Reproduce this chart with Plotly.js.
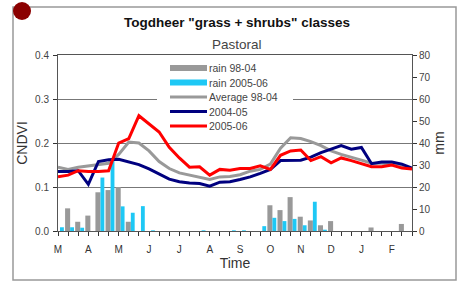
<!DOCTYPE html>
<html><head><meta charset="utf-8">
<script src="https://cdn.plot.ly/plotly-3.0.1.min.js"></script>
<style>html,body{margin:0;padding:0;background:#fff}#c{width:465px;height:282px}</style>
</head><body><div id="c"></div>
<script>
// dekads, March to February (36 dekads, 3 per month)
const dekads = Array.from({length: 36}, (_, i) => i);
const monthLabels = ['M','A','M','J','J','A','S','O','N','D','J','F'];
const rainAvg = [0,10.3,4.2,7,17.6,18.6,20,4.2,0,0,0,0,0,0,0,0,0,0,0,0,0,11.7,9.5,15.4,6.5,4.8,2.6,4.5,0,0,0,1.6,0,0,3.2,0];
const rain0506 = [1.7,1.7,1.5,0,24.3,33,11.2,8.3,11.3,0.3,0,0,0,0,0.3,0,0,0.3,0.3,0,2.2,6,4.5,5.5,2.6,13.3,0.6,0,0,0,0,0,0,0,0,0];
const ndviAvg = [0.145,0.140,0.145,0.148,0.150,0.154,0.174,0.202,0.200,0.182,0.158,0.142,0.132,0.127,0.122,0.117,0.123,0.124,0.128,0.136,0.140,0.152,0.188,0.212,0.210,0.203,0.194,0.182,0.174,0.168,0.161,0.154,0.154,0.152,0.146,0.142];
const ndvi0405 = [0.135,0.135,0.137,0.106,0.158,0.162,0.163,0.157,0.151,0.141,0.130,0.118,0.112,0.109,0.108,0.102,0.111,0.112,0.117,0.123,0.131,0.140,0.160,0.160,0.161,0.168,0.178,0.186,0.194,0.186,0.190,0.153,0.157,0.157,0.152,0.143];
const ndvi0506 = [0.123,0.127,0.137,0.135,0.135,0.137,0.200,0.210,0.262,0.243,0.225,0.190,0.166,0.145,0.146,0.127,0.140,0.138,0.142,0.142,0.148,0.140,0.172,0.182,0.184,0.160,0.169,0.155,0.166,0.160,0.153,0.146,0.146,0.150,0.143,0.141];
const seriesNames = ['rain 98-04','rain 2005-06','Average 98-04','2004-05','2005-06'];
const seriesColors = ['#999999','#1ec8f5','#999999','#00007f','#ff0000'];

const tickText = dekads.map(i => i % 3 === 0 ? monthLabels[i / 3] : '');
const F = 'Liberation Sans, Arial, sans-serif';
// plot area in pixels: l=58, r=412, t=55, b=231
const px = v => (v - 58) / 354;
const py = v => (231 - v) / 176;
const pxX = v => (v - 58) / 354 * 35;   // pixel -> x data (dekad)
const pyMM = v => (231 - v) / 2.2;      // pixel -> mm on main axis

const traces = [
  {type:'bar', name:seriesNames[0], x:dekads, y:rainAvg, yaxis:'y', marker:{color:seriesColors[0]}, offset:-0.3, width:0.5},
  {type:'bar', name:seriesNames[1], x:dekads, y:rain0506, yaxis:'y', marker:{color:seriesColors[1]}, offset:0.2, width:0.38},
  {type:'scatter', mode:'lines', name:seriesNames[2], x:dekads, y:ndviAvg, yaxis:'y2', line:{color:seriesColors[2], width:3}},
  {type:'scatter', mode:'lines', name:seriesNames[3], x:dekads, y:ndvi0405, yaxis:'y2', line:{color:seriesColors[3], width:3}},
  {type:'scatter', mode:'lines', name:seriesNames[4], x:dekads, y:ndvi0506, yaxis:'y2', line:{color:seriesColors[4], width:3}}
];

// hand-drawn legend (long swatches, tight spacing like the original)
const legShapes = [{type:'rect', xref:'x', yref:'y', x0:pxX(157), x1:pxX(293), y0:pyMM(112), y1:pyMM(58),
                    line:{width:0}, fillcolor:'#fff', layer:'between'}];
const legAnn = [];
seriesNames.forEach((n, k) => {
  const yy = 68 + k * 14.5;
  const thick = k < 2 ? 6 : 3;
  legShapes.push({type:'rect', xref:'paper', yref:'paper', x0:px(170), x1:px(207),
    y0:py(yy + thick / 2), y1:py(yy - thick / 2), line:{width:0}, fillcolor:seriesColors[k], layer:'above'});
  legAnn.push({text:n, xref:'paper', yref:'paper', x:px(207), y:py(yy), xanchor:'left', yanchor:'middle',
    showarrow:false, font:{family:F, size:10.5, color:'#444'}});
});

const layout = {
  width:465, height:282,
  margin:{l:58, r:53, t:55, b:51},
  paper_bgcolor:'#fff', plot_bgcolor:'#fff',
  font:{family:F, size:10, color:'#333'},
  barmode:'overlay',
  showlegend:false,
  title:{text:'<b>Togdheer "grass + shrubs" classes</b>', x:px(237), xanchor:'center', xref:'paper',
         y:1-22/282, yref:'container', yanchor:'middle', font:{family:F, size:13.5, color:'#111'}},
  annotations:[
    {text:'Pastoral', xref:'paper', yref:'paper', x:px(237), y:py(44), xanchor:'center', yanchor:'middle',
     showarrow:false, font:{family:F, size:13.5, color:'#444'}}
  ].concat(legAnn),
  xaxis:{range:[0,35], tickvals:dekads, ticktext:tickText, ticks:'outside', ticklen:4, tickcolor:'#333',
         ticklabelstandoff:5,
         showline:true, linecolor:'#555', linewidth:1, mirror:true, showgrid:false, zeroline:false,
         tickfont:{family:F, size:10, color:'#333'},
         title:{text:'Time', font:{family:F, size:14, color:'#333'}, standoff:4}},
  yaxis:{side:'right', range:[0,80], tickvals:[0,10,20,30,40,50,60,70,80], ticks:'outside', ticklen:4,
         tickcolor:'#333', showline:true, linecolor:'#555', showgrid:false, zeroline:false,
         tickfont:{family:F, size:10, color:'#444'},
         title:{text:'mm', font:{family:F, size:14, color:'#333'}, standoff:4}},
  yaxis2:{overlaying:'y', side:'left', range:[0,0.4], tickvals:[0,0.1,0.2,0.3,0.4], ticktext:['0.0','0.1','0.2','0.3','0.4'],
          ticks:'outside', ticklen:4, tickcolor:'#333', showline:true, linecolor:'#555', ticklabelstandoff:2,
          showgrid:true, gridcolor:'#777', gridwidth:1, zeroline:false,
          tickfont:{family:F, size:10, color:'#444'},
          title:{text:'CNDVI', font:{family:F, size:14, color:'#333'}, standoff:4}},
  shapes:[
    {type:'rect', xref:'paper', yref:'paper', x0:px(13), x1:px(456), y0:py(280), y1:py(7),
     line:{color:'#999', width:1.5}, fillcolor:'rgba(0,0,0,0)', layer:'below'},
    {type:'circle', xref:'paper', yref:'paper', x0:px(13), x1:px(31), y0:py(20), y1:py(2),
     line:{width:0}, fillcolor:'#8b0000'}
  ].concat(legShapes)
};

Plotly.newPlot('c', traces, layout, {displayModeBar:false, staticPlot:true});
</script>
</body></html>
